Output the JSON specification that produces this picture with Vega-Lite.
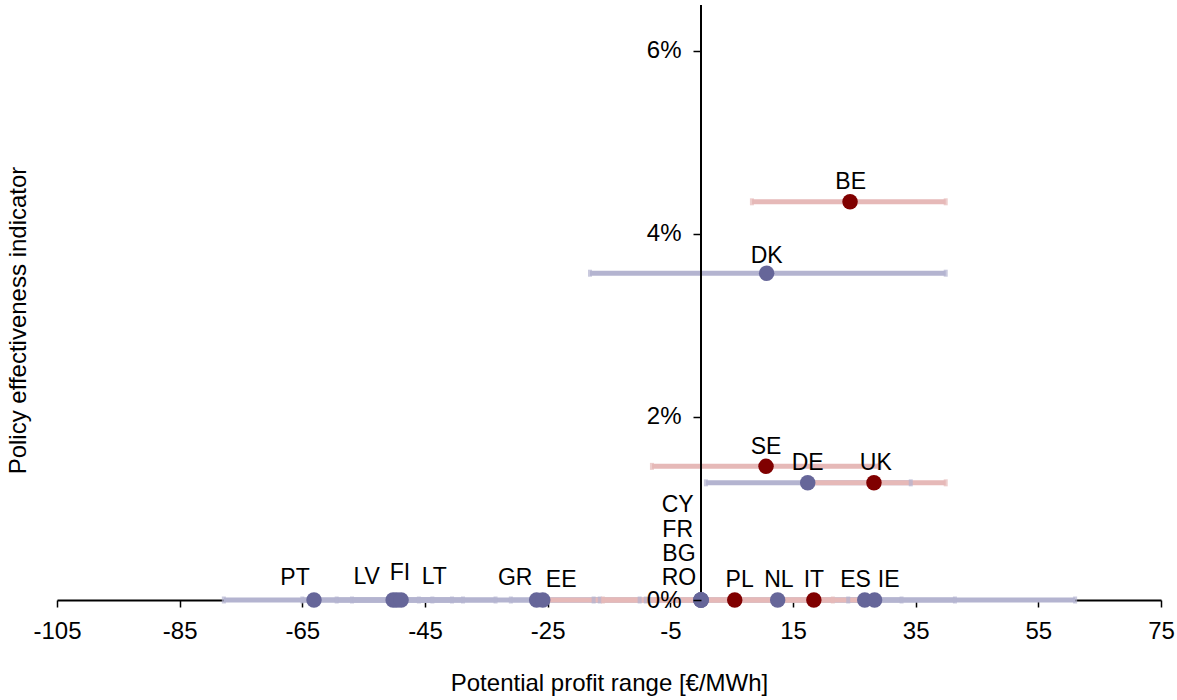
{
  "$schema": "https://vega.github.io/schema/vega-lite/v6.json",
  "width": 1104,
  "height": 595,
  "autosize": {"type": "none"},
  "padding": {"left": 57, "top": 5, "right": 16, "bottom": 100},
  "config": {
    "view": {"stroke": null},
    "font": "Liberation Sans",
    "axis": {"grid": false, "labelColor": "black", "titleColor": "black", "domainColor": "black", "tickColor": "black", "labelFont": "Liberation Sans", "titleFont": "Liberation Sans"}
  },
  "data": {
    "values": [
      {"country": "PT", "group": "blue", "profit": -63.1, "eff": 0, "lo": -77.8, "hi": -33.5, "lx": -66.2, "ly": 0.0024},
      {"country": "LV", "group": "blue", "profit": -50.2, "eff": 0, "lo": -65.0, "hi": -38.8, "lx": -54.5, "ly": 0.0025},
      {"country": "LT", "group": "blue", "profit": -49.6, "eff": 0, "lo": -59.4, "hi": -40.6, "lx": -43.5, "ly": 0.0025},
      {"country": "FI", "group": "blue", "profit": -48.9, "eff": 0, "lo": -56.9, "hi": -43.8, "lx": -49.1, "ly": 0.003},
      {"country": "GR", "group": "blue", "profit": -26.8, "eff": 0, "lo": -46.0, "hi": -16.5, "lx": -30.3, "ly": 0.0024},
      {"country": "EE", "group": "blue", "profit": -25.8, "eff": 0, "lo": -31.0, "hi": -10.0, "lx": -22.8, "ly": 0.0022},
      {"country": "CY", "group": "blue", "profit": 0, "eff": 0, "lo": null, "hi": null, "lx": -3.8, "ly": 0.0104},
      {"country": "FR", "group": "blue", "profit": 0, "eff": 0, "lo": null, "hi": null, "lx": -3.8, "ly": 0.0077},
      {"country": "BG", "group": "blue", "profit": 0, "eff": 0, "lo": null, "hi": null, "lx": -3.6, "ly": 0.005},
      {"country": "RO", "group": "blue", "profit": 0, "eff": 0, "lo": null, "hi": null, "lx": -3.6, "ly": 0.0024},
      {"country": "NL", "group": "blue", "profit": 12.5, "eff": 0, "lo": -17.5, "hi": 32.7, "lx": 12.7, "ly": 0.0022},
      {"country": "ES", "group": "blue", "profit": 26.7, "eff": 0, "lo": -9.0, "hi": 41.4, "lx": 25.2, "ly": 0.0022},
      {"country": "IE", "group": "blue", "profit": 28.3, "eff": 0, "lo": 24.0, "hi": 61.0, "lx": 30.6, "ly": 0.0022},
      {"country": "DK", "group": "blue", "profit": 10.7, "eff": 0.0357, "lo": -18.1, "hi": 39.9, "lx": 10.7, "ly": 0.0376},
      {"country": "DE", "group": "blue", "profit": 17.4, "eff": 0.0128, "lo": 0.8, "hi": 34.2, "lx": 17.4, "ly": 0.015},
      {"country": "PL", "group": "red", "profit": 5.5, "eff": 0, "lo": -26.0, "hi": 21.5, "lx": 6.3, "ly": 0.0022},
      {"country": "IT", "group": "red", "profit": 18.4, "eff": 0, "lo": -16.0, "hi": 27.0, "lx": 18.4, "ly": 0.0022},
      {"country": "SE", "group": "red", "profit": 10.6, "eff": 0.0146, "lo": -8.0, "hi": 29.1, "lx": 10.6, "ly": 0.0167},
      {"country": "UK", "group": "red", "profit": 28.2, "eff": 0.0128, "lo": 18.0, "hi": 39.9, "lx": 28.5, "ly": 0.015},
      {"country": "BE", "group": "red", "profit": 24.3, "eff": 0.0435, "lo": 8.3, "hi": 39.9, "lx": 24.4, "ly": 0.0457}
    ]
  },
  "layer": [
    {
      "transform": [{"filter": "datum.lo != null"}],
      "mark": {"type": "rule", "strokeWidth": 5},
      "encoding": {
        "x": {
          "field": "lo", "type": "quantitative",
          "title": "Potential profit range [€/MWh]",
          "scale": {"domain": [-105, 75], "nice": false, "zero": false},
          "axis": {
            "values": [-105, -85, -65, -45, -25, -5, 15, 35, 55, 75],
            "labelExpr": "datum.value < 0 ? '-' + abs(datum.value) : '' + datum.value",
            "labelFontSize": 24, "tickSize": 7, "tickWidth": 1.5, "domainWidth": 2,
            "labelPadding": 12, "labelFlush": false, "labelOverlap": false,
            "titleFontSize": 24, "titleFontWeight": "normal",
            "titleY": 90, "titleBaseline": "alphabetic"
          }
        },
        "x2": {"field": "hi"},
        "y": {
          "field": "eff", "type": "quantitative",
          "title": "Policy effectiveness indicator",
          "scale": {"domain": [0, 0.065], "nice": false},
          "axis": {
            "orient": "left", "offset": -644, "zindex": 1, "domain": false,
            "values": [0, 0.02, 0.04, 0.06], "format": ".0%",
            "labelFontSize": 24, "tickSize": 8, "tickWidth": 1.5,
            "labelPadding": 12,
            "titleFontSize": 24, "titleFontWeight": "normal",
            "titleAngle": -90, "titleX": -676, "titleY": 315, "titleAlign": "center", "titleBaseline": "alphabetic"
          }
        },
        "color": {"condition": {"test": "datum.group === 'red'", "value": "#E6B9B8"}, "value": "#B4B4D0"}
      }
    },
    {
      "transform": [
        {"filter": "datum.lo != null"},
        {"fold": ["lo", "hi"], "as": ["end", "endValue"]}
      ],
      "mark": {"type": "tick", "orient": "vertical", "size": 7, "thickness": 4},
      "encoding": {
        "x": {"field": "endValue", "type": "quantitative", "title": "Potential profit range [€/MWh]"},
        "y": {"field": "eff", "type": "quantitative", "title": "Policy effectiveness indicator"},
        "color": {"condition": {"test": "datum.group === 'red'", "value": "#E6B9B8"}, "value": "#B4B4D0"}
      }
    },
    {
      "mark": {"type": "rule", "color": "black", "strokeWidth": 2},
      "encoding": {
        "x": {"datum": 0, "type": "quantitative"}
      }
    },
    {
      "mark": {"type": "circle", "size": 240, "opacity": 1},
      "encoding": {
        "x": {"field": "profit", "type": "quantitative", "title": "Potential profit range [€/MWh]"},
        "y": {"field": "eff", "type": "quantitative", "title": "Policy effectiveness indicator"},
        "color": {"condition": {"test": "datum.group === 'red'", "value": "#800000"}, "value": "#666699"}
      }
    },
    {
      "mark": {"type": "text", "fontSize": 23, "align": "center", "baseline": "middle", "color": "black"},
      "encoding": {
        "x": {"field": "lx", "type": "quantitative", "title": "Potential profit range [€/MWh]"},
        "y": {"field": "ly", "type": "quantitative", "title": "Policy effectiveness indicator"},
        "text": {"field": "country"}
      }
    }
  ]
}
